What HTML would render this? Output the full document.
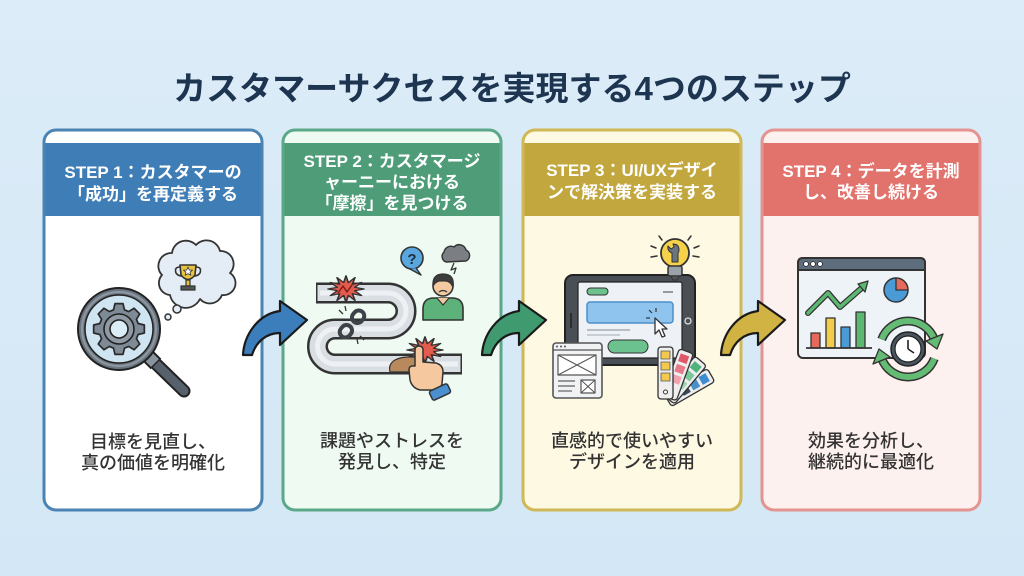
<!DOCTYPE html>
<html><head><meta charset="utf-8"><style>
html,body{margin:0;padding:0;background:#d7e9f7;}
svg{display:block;}
.t{font-family:"Liberation Sans","Noto Sans CJK JP",sans-serif;}
</style></head><body>
<svg width="1024" height="576" viewBox="0 0 1024 576" xmlns="http://www.w3.org/2000/svg">
<defs>
<linearGradient id="bg" x1="0" y1="0" x2="0" y2="1"><stop offset="0" stop-color="#dcecf8"/><stop offset="1" stop-color="#d4e7f6"/></linearGradient>
</defs>
<rect width="1024" height="576" fill="url(#bg)"/>

<text class="t" x="512" y="100" text-anchor="middle" font-size="33" font-weight="700" fill="#1d3550">カスタマーサクセスを実現する4つのステップ</text>

<!-- Cards -->
<rect x="44" y="130" width="218" height="380" rx="12" fill="#ffffff" stroke="#4b83b3" stroke-width="3"/>
<rect x="45.5" y="143" width="215" height="73" fill="#3e7db5"/>
<rect x="283" y="130" width="218" height="380" rx="12" fill="#eefaf2" stroke="#5ba889" stroke-width="3"/>
<rect x="284.5" y="143" width="215" height="73" fill="#4e9d78"/>
<rect x="523" y="130" width="218" height="380" rx="12" fill="#fdf9e3" stroke="#cfb855" stroke-width="3"/>
<rect x="524.5" y="143" width="215" height="73" fill="#c2a73e"/>
<rect x="762" y="130" width="218" height="380" rx="12" fill="#fdf1ef" stroke="#e39490" stroke-width="3"/>
<rect x="763.5" y="143" width="215" height="73" fill="#e2726c"/>

<!-- Header text -->
<g class="t" font-size="17" font-weight="700" fill="#ffffff" text-anchor="middle">
<text x="153" y="178">STEP 1：カスタマーの</text>
<text x="153" y="200">「成功」を再定義する</text>
<text x="392" y="167">STEP 2：カスタマージ</text>
<text x="392" y="188">ャーニーにおける</text>
<text x="392" y="209">「摩擦」を見つける</text>
<text x="632" y="176">STEP 3：UI/UXデザイ</text>
<text x="632" y="198">ンで解決策を実装する</text>
<text x="871" y="177">STEP 4：データを計測</text>
<text x="871" y="198">し、改善し続ける</text>
</g>

<!-- Body text -->
<g class="t" font-size="18" font-weight="500" fill="#333333" text-anchor="middle">
<text x="153" y="448">目標を見直し、</text>
<text x="153" y="469">真の価値を明確化</text>
<text x="392" y="447">課題やストレスを</text>
<text x="392" y="468">発見し、特定</text>
<text x="632" y="447">直感的で使いやすい</text>
<text x="632" y="468">デザインを適用</text>
<text x="871" y="447">効果を分析し、</text>
<text x="871" y="468">継続的に最適化</text>
</g>

<!-- Arrows -->
<path d="M243,355 C244,335 258,314 280,311 L280,301 L307,320 L280,345 L280,333 C266,333 256,342 252,355 Z" fill="#3c7dbb" stroke="#1a1a1a" stroke-width="2.2" stroke-linejoin="round"/>
<path transform="translate(239,0)" d="M243,355 C244,335 258,314 280,311 L280,301 L307,320 L280,345 L280,333 C266,333 256,342 252,355 Z" fill="#3f9a70" stroke="#1a1a1a" stroke-width="2.2" stroke-linejoin="round"/>
<path transform="translate(478,0)" d="M243,355 C244,335 258,314 280,311 L280,301 L307,320 L280,345 L280,333 C266,333 256,342 252,355 Z" fill="#d1b344" stroke="#1a1a1a" stroke-width="2.2" stroke-linejoin="round"/>

<!-- ICON 1 -->
<g stroke-linejoin="round">
<path d="M170,295 a12,12 0 0 1 -8,-20 a13,13 0 0 1 10,-22 a14,14 0 0 1 24,-8 a14,14 0 0 1 24,6 a13,13 0 0 1 10,22 a12,12 0 0 1 -8,22 a13,13 0 0 1 -22,4 a16,16 0 0 1 -30,-4 Z" fill="#e4edf5" stroke="#333" stroke-width="1.8"/>
<path d="M180,265 L196,265 L195,275 Q188,284 181,275 Z" fill="#e8c341" stroke="#333" stroke-width="1.6"/>
<path d="M180,267 Q174,267 176,273 Q178,276 182,276" fill="none" stroke="#333" stroke-width="1.6"/>
<path d="M196,267 Q202,267 200,273 Q198,276 194,276" fill="none" stroke="#333" stroke-width="1.6"/>
<rect x="186" y="280" width="4" height="6" fill="#e8c341" stroke="#333" stroke-width="1.2"/>
<rect x="181" y="286" width="14" height="4" fill="#555" stroke="#333" stroke-width="1.2"/>
<polygon points="188,267 189.3,270 192.5,270.2 190,272.2 190.9,275.3 188,273.6 185.1,275.3 186,272.2 183.5,270.2 186.7,270" fill="#fff" stroke="#333" stroke-width="0.8"/>
<circle cx="177" cy="309" r="4" fill="#e4edf5" stroke="#333" stroke-width="1.5"/>
<circle cx="168" cy="317" r="3" fill="#e4edf5" stroke="#333" stroke-width="1.5"/>
<line x1="150" y1="358" x2="184" y2="391" stroke="#222" stroke-width="13" stroke-linecap="round"/>
<line x1="150" y1="358" x2="184" y2="391" stroke="#57616b" stroke-width="9" stroke-linecap="round"/>
<line x1="145" y1="353" x2="156" y2="364" stroke="#222" stroke-width="15"/>
<line x1="146" y1="354" x2="155" y2="363" stroke="#8a949e" stroke-width="11"/>
<circle cx="119" cy="329" r="41" fill="#6b7680" stroke="#222" stroke-width="2"/>
<circle cx="119" cy="329" r="37" fill="none" stroke="#8e98a2" stroke-width="2"/>
<circle cx="119" cy="329" r="34" fill="#cfe5f2" stroke="#222" stroke-width="1.5"/>
<polygon transform="translate(119,329) scale(0.95)" fill="#7e8a95" stroke="#2a2a2a" stroke-width="1.8" points="20.19,-5.79 26.67,-4.22 26.67,4.22 20.19,5.79 18.37,10.18 21.84,15.87 15.87,21.84 10.18,18.37 5.79,20.19 4.22,26.67 -4.22,26.67 -5.79,20.19 -10.18,18.37 -15.87,21.84 -21.84,15.87 -18.37,10.18 -20.19,5.79 -26.67,4.22 -26.67,-4.22 -20.19,-5.79 -18.37,-10.18 -21.84,-15.87 -15.87,-21.84 -10.18,-18.37 -5.79,-20.19 -4.22,-26.67 4.22,-26.67 5.79,-20.19 10.18,-18.37 15.87,-21.84 21.84,-15.87 18.37,-10.18"/>
<circle cx="119" cy="329" r="15" fill="#8f9aa4" stroke="#222" stroke-width="1.6"/>
<circle cx="119" cy="329" r="9" fill="#dbeef8" stroke="#222" stroke-width="1.6"/>
</g>

<!-- ICON 2 -->
<g stroke-linejoin="round">
<path d="M316,293 L388,293 A18,18 0 0 1 388,329 L335,329 A17.5,17.5 0 0 0 335,364 L462,364" fill="none" stroke="#333" stroke-width="21"/>
<path d="M317.5,293 L388,293 A18,18 0 0 1 388,329 L335,329 A17.5,17.5 0 0 0 335,364 L460.5,364" fill="none" stroke="#d9dee3" stroke-width="16"/>
<path d="M320,293 L388,293 A18,18 0 0 1 388,329 L335,329 A17.5,17.5 0 0 0 335,364 L458,364" fill="none" stroke="#eef1f4" stroke-width="5"/>
<polygon transform="translate(346,289) scale(1.5,1.1)" fill="#e45b4d" stroke="#333" stroke-width="1.1" points="12,0 5.8,1.55 10.39,6 4.24,4.24 6,10.39 1.55,5.8 0,12 -1.55,5.8 -6,10.39 -4.24,4.24 -10.39,6 -5.8,1.55 -12,0 -5.8,-1.55 -10.39,-6 -4.24,-4.24 -6,-10.39 -1.55,-5.8 0,-12 1.55,-5.8 6,-10.39 4.24,-4.24 10.39,-6 5.8,-1.55"/>
<path d="M338,293 L343,286 L347,292 L352,285" fill="none" stroke="#7a1e16" stroke-width="1.5"/>
<polygon transform="translate(425,350) scale(1.5,1.1)" fill="#e45b4d" stroke="#333" stroke-width="1.1" points="12,0 5.8,1.55 10.39,6 4.24,4.24 6,10.39 1.55,5.8 0,12 -1.55,5.8 -6,10.39 -4.24,4.24 -10.39,6 -5.8,1.55 -12,0 -5.8,-1.55 -10.39,-6 -4.24,-4.24 -6,-10.39 -1.55,-5.8 0,-12 1.55,-5.8 6,-10.39 4.24,-4.24 10.39,-6 5.8,-1.55"/>
<g transform="translate(352,324) rotate(-50)">
<rect x="-16" y="-5.5" width="13" height="11" rx="5.5" fill="none" stroke="#3d4248" stroke-width="4"/>
<rect x="3" y="-5.5" width="13" height="11" rx="5.5" fill="none" stroke="#3d4248" stroke-width="4"/>
</g>
<g stroke="#333" stroke-width="1.3">
<line x1="343" y1="314" x2="339" y2="310"/><line x1="346" y1="311" x2="345" y2="306"/><line x1="360" y1="336" x2="364" y2="340"/><line x1="357" y1="339" x2="358" y2="344"/>
</g>
<path d="M395,360 Q405,355 420,358 L422,372 L390,372 Q388,364 395,360 Z" fill="#b8895c" stroke="#333" stroke-width="1.2"/>
<path d="M415,350 Q415,346 419,346 Q423,346 423,350 L423,362 L436,363 Q443,365 443,372 L442,384 Q440,390 432,390 L420,390 Q412,388 410,380 L409,370 Q409,365 415,366 Z" fill="#f5c8a0" stroke="#333" stroke-width="1.5"/>
<g transform="translate(440,392) rotate(-25)"><rect x="-10" y="-5" width="20" height="10" rx="2" fill="#4a8fd0" stroke="#333" stroke-width="1.5"/></g>
<path d="M423,320 V309 Q423,298 434,298 H452 Q463,298 463,309 V320 Z" fill="#5cb27a" stroke="#333" stroke-width="1.6"/>
<path d="M437,298 L443,305 L449,298" fill="#f2c9a0" stroke="#333" stroke-width="1.2"/>
<circle cx="443" cy="286" r="10" fill="#f2c9a0" stroke="#333" stroke-width="1.6"/>
<path d="M433,286 Q432,274 443,274 Q455,274 453,287 Q450,280 443,281 Q436,280 433,286 Z" fill="#3d3d3d" stroke="#333" stroke-width="1.2"/>
<path d="M439,292 Q443,289 447,292" fill="none" stroke="#333" stroke-width="1.2"/>
<circle cx="412" cy="258" r="11" fill="#5aa7e0" stroke="#333" stroke-width="1.6"/>
<path d="M416,268 L421,275 L410,269" fill="#5aa7e0" stroke="#333" stroke-width="1.4"/>
<text class="t" x="412" y="264" text-anchor="middle" font-size="15" font-weight="700" fill="#1d2d3a">?</text>
<path d="M446,262 a6,6 0 0 1 -2,-10 a7,7 0 0 1 10,-5 a7,7 0 0 1 12,3 a6,6 0 0 1 0,11 Z" fill="#7b7f84" stroke="#333" stroke-width="1.4"/>
<path d="M454,263 L451,270 L456,268 L454,274" fill="none" stroke="#333" stroke-width="1.3"/>
</g>

<!-- ICON 3 -->
<g stroke-linejoin="round">
<rect x="565" y="275" width="130" height="90" rx="8" fill="#4a4f55" stroke="#222" stroke-width="2"/>
<rect x="578" y="282" width="104" height="76" rx="2" fill="#eef2f6" stroke="#222" stroke-width="1.2"/>
<line x1="571" y1="313" x2="571" y2="328" stroke="#222" stroke-width="1.5"/>
<circle cx="688" cy="321" r="3" fill="none" stroke="#ddd" stroke-width="1.3"/>
<rect x="587" y="288" width="21" height="7" rx="3.5" fill="#6cc28f" stroke="#333" stroke-width="1"/>
<line x1="663" y1="292" x2="673" y2="292" stroke="#999" stroke-width="2"/>
<rect x="587" y="302" width="86" height="21" rx="3" fill="#8fc4ee" stroke="#4b8fc8" stroke-width="1.5"/>
<line x1="587" y1="330" x2="630" y2="330" stroke="#b8bec5" stroke-width="2"/>
<line x1="587" y1="335" x2="620" y2="335" stroke="#c8ced4" stroke-width="2"/>
<rect x="608" y="340" width="40" height="13" rx="6.5" fill="#6cc28f" stroke="#333" stroke-width="1"/>
<polygon transform="translate(655,318)" points="0,0 0,16 4,12 7,19 10,18 7,11 12,11" fill="#fff" stroke="#333" stroke-width="1.3"/>
<g stroke="#333" stroke-width="1.2"><line x1="652" y1="313" x2="649" y2="310"/><line x1="656" y1="312" x2="656" y2="308"/><line x1="650" y1="318" x2="646" y2="318"/></g>
<g stroke="#333" stroke-width="1.5" stroke-linecap="round">
<line x1="656" y1="248" x2="651" y2="246"/><line x1="657" y1="256" x2="651" y2="257"/><line x1="694" y1="248" x2="699" y2="246"/><line x1="693" y1="256" x2="699" y2="257"/><line x1="662" y1="240" x2="659" y2="236"/><line x1="688" y1="240" x2="691" y2="236"/>
</g>
<circle cx="675" cy="253" r="14" fill="#f6d24b" stroke="#333" stroke-width="1.8"/>
<path d="M672,262 L672,253 Q667,251 668,246 L671,249 L674,247 L673,244 Q679,244 679,250 Q679,252 678,253 L678,262 Z" fill="#6b7580" stroke="#333" stroke-width="1"/>
<rect x="668" y="266" width="14" height="10" rx="2" fill="#9aa1a8" stroke="#333" stroke-width="1.5"/>
<path d="M671,276 L679,276 L677,280 L673,280 Z" fill="#555" stroke="#333" stroke-width="1"/>
<rect x="553" y="343" width="49" height="55" rx="3" fill="#f0f2f4" stroke="#555" stroke-width="1.6"/>
<line x1="553" y1="350" x2="602" y2="350" stroke="#555" stroke-width="1.2"/>
<circle cx="557" cy="346.5" r="1" fill="#555"/><circle cx="561" cy="346.5" r="1" fill="#555"/><circle cx="565" cy="346.5" r="1" fill="#555"/>
<rect x="558" y="355" width="38" height="20" fill="#fff" stroke="#555" stroke-width="1.2"/>
<line x1="558" y1="355" x2="596" y2="375" stroke="#555" stroke-width="1"/><line x1="596" y1="355" x2="558" y2="375" stroke="#555" stroke-width="1"/>
<line x1="558" y1="381" x2="575" y2="381" stroke="#777" stroke-width="1.4"/><line x1="558" y1="386" x2="575" y2="386" stroke="#777" stroke-width="1.4"/><line x1="558" y1="391" x2="572" y2="391" stroke="#777" stroke-width="1.4"/>
<rect x="581" y="380" width="14" height="13" fill="#fff" stroke="#555" stroke-width="1.2"/>
<line x1="581" y1="380" x2="595" y2="393" stroke="#555" stroke-width="1"/><line x1="595" y1="380" x2="581" y2="393" stroke="#555" stroke-width="1"/>
<g transform="translate(666,397) rotate(60)"><rect x="-4" y="-50" width="15" height="50" rx="3" fill="#eee" stroke="#333" stroke-width="1.3"/><rect x="-1" y="-46" width="9" height="8" fill="#3e8bd0"/><rect x="-1" y="-35" width="9" height="8" fill="#4a90c8"/><rect x="-1" y="-24" width="9" height="8" fill="#3b4a5a"/></g>
<g transform="translate(666,397) rotate(40)"><rect x="-4" y="-50" width="15" height="50" rx="3" fill="#eee" stroke="#333" stroke-width="1.3"/><rect x="-1" y="-46" width="9" height="8" fill="#4fb27a"/><rect x="-1" y="-35" width="9" height="8" fill="#7cc79a"/><rect x="-1" y="-24" width="9" height="8" fill="#9ed6b3"/></g>
<g transform="translate(666,397) rotate(20)"><rect x="-4" y="-50" width="15" height="50" rx="3" fill="#eee" stroke="#333" stroke-width="1.3"/><rect x="-1" y="-46" width="9" height="8" fill="#e0566a"/><rect x="-1" y="-35" width="9" height="8" fill="#e87a8a"/><rect x="-1" y="-24" width="9" height="8" fill="#f0a3ae"/></g>
<g transform="translate(666,397)"><rect x="-8" y="-50" width="15" height="52" rx="3" fill="#eee" stroke="#333" stroke-width="1.3"/><rect x="-5" y="-46" width="9" height="8" fill="#f2c94c" stroke="#555" stroke-width="0.8"/><rect x="-5" y="-35" width="9" height="8" fill="#f2c94c" stroke="#555" stroke-width="0.8"/><rect x="-5" y="-24" width="9" height="8" fill="#f2c94c" stroke="#555" stroke-width="0.8"/><circle cx="-0.5" cy="-5" r="2" fill="#fff" stroke="#333" stroke-width="1"/></g>
</g>

<!-- ICON 4 -->
<g stroke-linejoin="round">
<rect x="798" y="258" width="127" height="100" rx="5" fill="#eef3f7" stroke="#333" stroke-width="2"/>
<path d="M798,270 V263 Q798,258 803,258 H920 Q925,258 925,263 V270 Z" fill="#5d6d7b" stroke="#333" stroke-width="2"/>
<circle cx="806" cy="264" r="2.4" fill="#fff" stroke="#222" stroke-width="0.8"/><circle cx="813" cy="264" r="2.4" fill="#fff" stroke="#222" stroke-width="0.8"/><circle cx="820" cy="264" r="2.4" fill="#fff" stroke="#222" stroke-width="0.8"/>
<polyline points="808,313 828,293 840,307 864,286" fill="none" stroke="#333" stroke-width="6" stroke-linecap="round"/>
<polyline points="808,313 828,293 840,307 864,286" fill="none" stroke="#5cb870" stroke-width="3.5" stroke-linecap="round"/>
<polygon points="868,281 858,284 865,292" fill="#5cb870" stroke="#333" stroke-width="1.3"/>
<rect x="811" y="333" width="9" height="15" fill="#e66a5a" stroke="#333" stroke-width="1.3"/>
<rect x="826" y="318" width="9" height="30" fill="#f2cc4a" stroke="#333" stroke-width="1.3"/>
<rect x="841" y="327" width="9" height="21" fill="#4a9ad6" stroke="#333" stroke-width="1.3"/>
<rect x="856" y="312" width="9" height="36" fill="#5cb870" stroke="#333" stroke-width="1.3"/>
<line x1="806" y1="348" x2="872" y2="348" stroke="#333" stroke-width="1.8"/>
<circle cx="896" cy="290" r="12" fill="#4a9ad6" stroke="#333" stroke-width="1.5"/>
<path d="M896,290 L896,278 A12,12 0 0 1 908,290 Z" fill="#e66a5a" stroke="#333" stroke-width="1.3"/>
<path d="M881.7,339.4 A28,28 0 0 1 934.3,339.4" fill="none" stroke="#333" stroke-width="9"/>
<path d="M881.7,339.4 A28,28 0 0 1 934.3,339.4" fill="none" stroke="#63bb74" stroke-width="6"/>
<polygon points="937,349 926,341 943,334" fill="#63bb74" stroke="#333" stroke-width="1.3"/>
<path d="M934.3,358.6 A28,28 0 0 1 881.7,358.6" fill="none" stroke="#333" stroke-width="9"/>
<path d="M934.3,358.6 A28,28 0 0 1 881.7,358.6" fill="none" stroke="#63bb74" stroke-width="6"/>
<polygon points="879,349 890,357 873,364" fill="#63bb74" stroke="#333" stroke-width="1.3"/>
<circle cx="908" cy="349" r="17" fill="#4a5560" stroke="#222" stroke-width="1.5"/>
<circle cx="908" cy="349" r="13" fill="#fff" stroke="#222" stroke-width="1.2"/>
<line x1="908" y1="349" x2="908" y2="340" stroke="#222" stroke-width="1.6"/>
<line x1="908" y1="349" x2="914" y2="353" stroke="#222" stroke-width="1.6"/>
</g>
</svg>
</body></html>
